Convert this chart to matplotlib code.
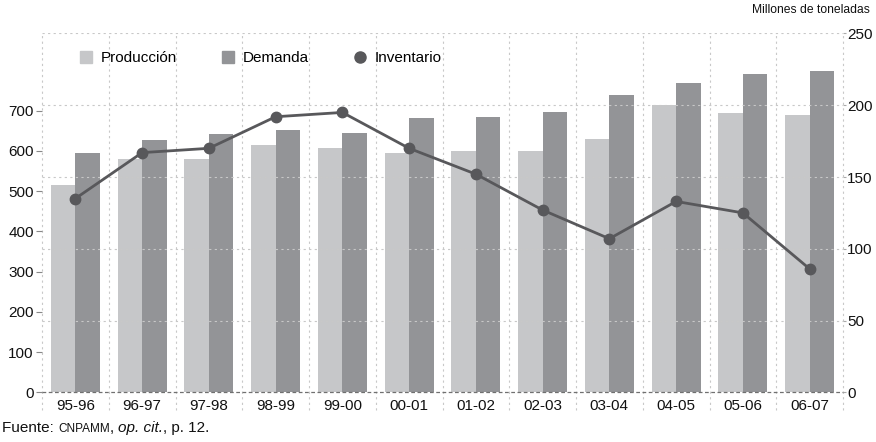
import matplotlib
matplotlib.use("Agg")
import matplotlib.pyplot as plt
import numpy as np
from matplotlib.lines import Line2D

plt.rcParams['font.family'] = ['Liberation Sans', 'DejaVu Sans']

categories = ["95-96", "96-97", "97-98", "98-99", "99-00", "00-01",
              "01-02", "02-03", "03-04", "04-05", "05-06", "06-07"]
produccion = [516, 580, 580, 615, 608, 595, 600, 600, 630, 715, 695, 690]
demanda = [595, 628, 643, 653, 645, 682, 685, 697, 740, 770, 792, 800]
inventario = [135, 167, 170, 192, 195, 170, 152, 127, 107, 133, 125, 86]
left_ticks = [0, 100, 200, 300, 400, 500, 600, 700]
right_ticks = [0, 50, 100, 150, 200, 250]

c_prod = "#c6c7c9"
c_dem = "#939497"
c_inv = "#58585b"
c_grid = "#c8c8c8"
c_text = "#111111"

fig = plt.figure(figsize=(8.76, 4.42), dpi=100)
ax = fig.add_axes([42/876, (442-392.3)/442, 801/876, (392.3-33.5)/442])
ax2 = ax.twinx()

x = np.arange(len(categories))
w = 0.367
ax.bar(x - w/2, produccion, width=w, color=c_prod, zorder=2)
ax.bar(x + w/2, demanda, width=w, color=c_dem, zorder=2)

ax.set_xlim(-0.5, len(categories) - 0.5)
ax.set_ylim(0, 250 * 1.434 / 0.4019)
ax2.set_ylim(0, 250)

ax2.plot(x, inventario, color=c_inv, lw=2.0, marker='o', markersize=7.5, zorder=5)

# grid lines
for t in right_ticks[1:]:
    ax2.axhline(t, color=c_grid, lw=0.8, ls=(0, (2, 3)), zorder=0)
ax.vlines(np.arange(len(categories) + 1) - 0.5, -0.05, 1,
          transform=ax.get_xaxis_transform(), colors=c_grid, lw=0.8,
          linestyles=(0, (2, 3)), clip_on=False, zorder=0)
ax.axhline(0, color="#707070", lw=0.9, ls=(0, (3, 2)), zorder=3, clip_on=False)

for a in (ax, ax2):
    for s in a.spines.values():
        s.set_visible(False)

ax.set_xticks(x)
ax.set_xticklabels(categories, fontsize=11)
ax.tick_params(axis='x', length=0, pad=5, colors=c_text)
ax.set_yticks(left_ticks)
ax.set_yticklabels([str(t) for t in left_ticks], fontsize=11)
ax.tick_params(axis='y', length=4, width=0.8, color="#888888", pad=2, labelcolor=c_text)
ax2.set_yticks(right_ticks)
ax2.set_yticklabels([str(t) for t in right_ticks], fontsize=11)
ax2.tick_params(axis='y', length=2, width=0.8, color="#aaaaaa", pad=1, labelcolor=c_text)

ax.set_zorder(ax2.get_zorder() - 1)
ax.patch.set_visible(True)
ax2.patch.set_visible(False)

handles = [
    Line2D([], [], ls='none', marker='s', markersize=8.5, color=c_prod),
    Line2D([], [], ls='none', marker='s', markersize=8.5, color=c_dem),
    Line2D([], [], ls='none', marker='o', markersize=8, color=c_inv),
]
fig.legend(handles, ["Producción", "Demanda", "Inventario"], ncol=3,
           loc='center left', bbox_to_anchor=(80/876, 1 - 58/442),
           frameon=False, fontsize=11, handlelength=0.8, handletextpad=0.55,
           columnspacing=2.95, borderaxespad=0, borderpad=0, handleheight=0.7)

fig.text(870/876, 1 - 10/442, "Millones de toneladas", ha='right', va='center',
         fontsize=8.7, color=c_text)

t1 = fig.text(2/876, 1 - 432/442, "Fuente: ", ha='left', va='baseline', fontsize=11, color=c_text)
an1 = ax.annotate("CNPAMM", xy=(1, 0), xycoords=t1, va='bottom', ha='left',
                  fontsize=8.5, color=c_text, annotation_clip=False)
an2 = ax.annotate(", ", xy=(1, 0), xycoords=an1, va='bottom', ha='left',
                  fontsize=11, color=c_text, annotation_clip=False)
an3 = ax.annotate("op. cit.", xy=(1, 0), xycoords=an2, va='bottom', ha='left',
                  fontsize=11, style='italic', color=c_text, annotation_clip=False)
an4 = ax.annotate(", p. 12.", xy=(1, 0), xycoords=an3, va='bottom', ha='left',
                  fontsize=11, color=c_text, annotation_clip=False)

fig.savefig("out.png", dpi=100)
